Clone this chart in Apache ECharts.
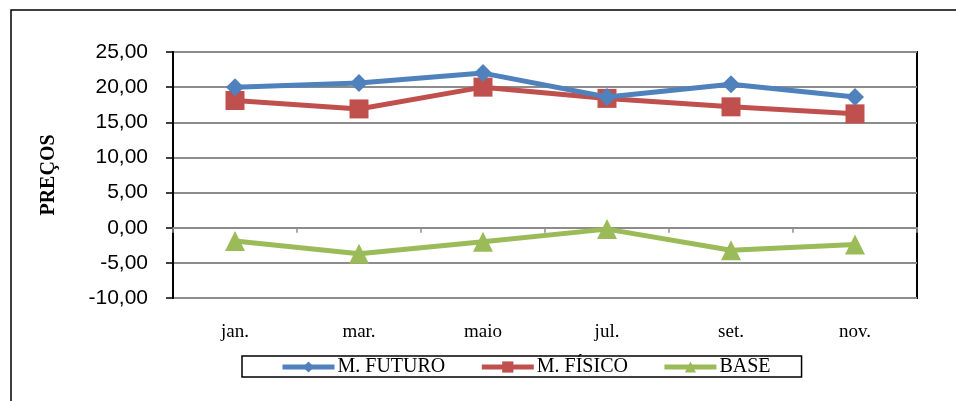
<!DOCTYPE html>
<html><head><meta charset="utf-8">
<script src="https://cdn.jsdelivr.net/npm/echarts@6/dist/echarts.min.js"></script>
<style>html,body{margin:0;padding:0;background:#fff}#c{width:956px;height:401px}</style>
</head><body><div id="c"></div>
<script>
const categories = ['jan.', 'mar.', 'maio', 'jul.', 'set.', 'nov.'];
const futuro = [20.0, 20.6, 22.0, 18.6, 20.4, 18.6];
const fisico = [18.1, 16.9, 20.0, 18.4, 17.2, 16.2];
const base = [-1.9, -3.7, -2.0, -0.2, -3.2, -2.4];
const seriesNames = ['M. FUTURO', 'M. FÍSICO', 'BASE'];
const yTitle = 'PREÇOS';

const chart = echarts.init(document.getElementById('c'));
const fmt = v => v.toFixed(2).replace('.', ',');
chart.setOption({
  animation: false,
  backgroundColor: '#fff',
  graphic: [{
    type: 'rect', shape: {x: 11, y: 10, width: 2000, height: 2000},
    style: {fill: 'none', stroke: '#000', lineWidth: 1.5}, z: 0
  }],
  grid: {left: 173, top: 52, right: 39, bottom: 103, show: true, borderColor: '#000', borderWidth: 2, backgroundColor: 'transparent'},
  legend: {
    left: 242, top: 356, padding: [1, 31, 0, 38],
    borderColor: '#000', borderWidth: 1.5,
    itemWidth: 52, itemHeight: 14, itemGap: 34,
    lineStyle: {width: 5},
    textStyle: {fontFamily: 'Liberation Serif', fontSize: 20, color: '#000', padding: [2, 0, 0, -2]},
    data: seriesNames
  },
  xAxis: [{
    type: 'category', data: categories, position: 'bottom',
    axisLine: {onZero: false, show: false},
    axisTick: {show: false},
    axisLabel: {fontFamily: 'Liberation Serif', fontSize: 19, color: '#000', margin: 25}
  }, {
    type: 'category', data: categories, position: 'bottom',
    axisLine: {onZero: true, lineStyle: {color: '#8c8c8c', width: 2}},
    axisTick: {show: true, inside: false, length: 5, lineStyle: {color: '#8c8c8c', width: 1.5}},
    axisLabel: {show: false}
  }],
  yAxis: {
    type: 'value', min: -10, max: 25, interval: 5,
    name: yTitle, nameLocation: 'middle', nameGap: 114, nameRotate: 90,
    nameTextStyle: {fontFamily: 'Liberation Serif', fontSize: 20, fontWeight: 'bold', color: '#000'},
    axisLine: {show: true, lineStyle: {color: '#000', width: 2}},
    axisTick: {show: true, length: 7, lineStyle: {color: '#000', width: 1.5}},
    axisLabel: {fontFamily: 'Liberation Sans', fontSize: 21, color: '#000', margin: 25, formatter: fmt},
    splitLine: {lineStyle: {color: '#8c8c8c', width: 2}}
  },
  series: [{
    name: seriesNames[0], type: 'line', data: futuro, xAxisIndex: 0,
    symbol: 'diamond', symbolSize: 18,
    itemStyle: {color: '#4f81bd'}, lineStyle: {color: '#4f81bd', width: 5}, z: 3
  }, {
    name: seriesNames[1], type: 'line', data: fisico, xAxisIndex: 0,
    symbol: 'rect', symbolSize: 19,
    itemStyle: {color: '#c0504d'}, lineStyle: {color: '#c0504d', width: 5}, z: 2
  }, {
    name: seriesNames[2], type: 'line', data: base, xAxisIndex: 0,
    symbol: 'triangle', symbolSize: 20,
    itemStyle: {color: '#9bbb59'}, lineStyle: {color: '#9bbb59', width: 5}, z: 2
  }]
});
</script></body></html>
